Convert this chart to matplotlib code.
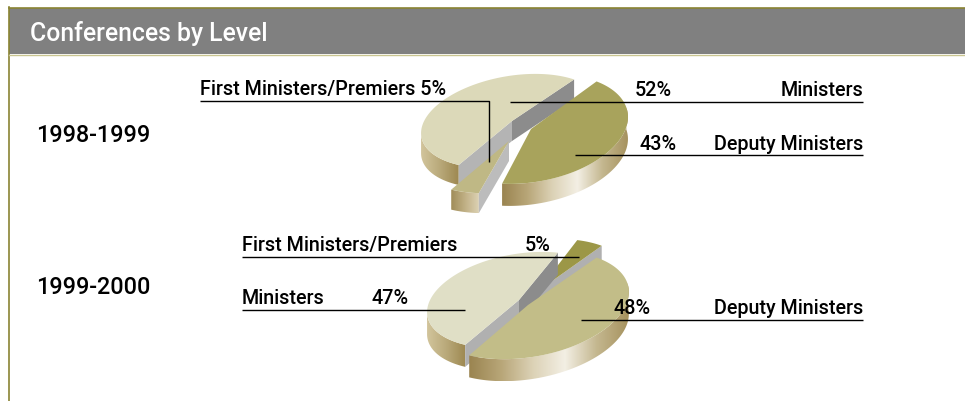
import numpy as np
import matplotlib
matplotlib.use('Agg')
import matplotlib.pyplot as plt
from matplotlib.colors import LinearSegmentedColormap
from matplotlib.patches import Polygon

plt.rcParams['font.family'] = ['Roboto', 'DejaVu Sans']

# Data
title = 'Conferences by Level'
years = ['1998-1999', '1999-2000']
levels_98 = ['Ministers', 'First Ministers/Premiers', 'Deputy Ministers']
values_98 = [52, 5, 43]
levels_99 = ['First Ministers/Premiers', 'Ministers', 'Deputy Ministers']
values_99 = [5, 47, 48]

# Pie projection
START = 42
TILT = np.radians(10)

MIN_RIM = ['#d2c59c', '#b9a97a', '#9d8850']
DEP_RIM = ['#9a8450', '#b8a678', '#dcd2b6', '#f3efe4', '#c4b78f', '#a6925e']
FM_RIM = ['#a08c58', '#c0b085', '#dcd2b4']


def ellipse(cx, cy, rx, ry, deg):
    t = np.radians(deg)
    u = rx * np.cos(t)
    v = ry * np.sin(t)
    return (cx + u * np.cos(TILT) - v * np.sin(TILT),
            cy - u * np.sin(TILT) - v * np.cos(TILT))


def draw_wedge(ax, a0, a1, center, rx, ry, depth, top, rim, start_face, end_face):
    cx, cy = center
    xs, ys = ellipse(cx, cy, rx, ry, np.linspace(a0, a1, 120))

    # outer wall, front part only
    lo, hi = max(a0, 175), min(a1, 365)
    if hi > lo:
        rx_s, ry_s = ellipse(cx, cy, rx, ry, np.linspace(lo, hi, 120))
        pts = np.r_[np.c_[rx_s, ry_s], np.c_[rx_s, ry_s + depth][::-1]]
        clip = Polygon(pts, transform=ax.transData, fc='none', ec='none')
        ax.add_patch(clip)
        cmap = LinearSegmentedColormap.from_list('rim', rim)
        im = ax.imshow(np.linspace(0, 1, 256).reshape(1, -1), cmap=cmap, aspect='auto',
                       extent=(rx_s.min(), rx_s.max(), ry_s.max() + depth, ry_s.min()),
                       zorder=ax.zcount)
        im.set_clip_path(clip)

    # cut faces
    for ang, col in ((a0, start_face), (a1, end_face)):
        if col is None:
            continue
        ex, ey = ellipse(cx, cy, rx, ry, ang)
        ax.add_patch(Polygon([(cx, cy), (ex, ey), (ex, ey + depth), (cx, cy + depth)],
                             fc=col, ec='none', zorder=ax.zcount))

    ax.add_patch(Polygon(np.r_[[(cx, cy)], np.c_[xs, ys]], fc=top, ec='none', zorder=ax.zcount))
    ax.zcount += 1


fig = plt.figure(figsize=(9.65, 4.02), dpi=100)
ax = fig.add_axes([0, 0, 1, 1])
ax.zcount = 2
ax.axis('off')

# Frame and header
ax.fill_between([9, 965], 9, 55, color='#808080', lw=0, zorder=1)
ax.plot([8.5, 965], [8.5, 8.5], color='#8a8433', lw=1.2, zorder=1)
ax.plot([8.5, 8.5], [8, 402], color='#8a8433', lw=1.2, zorder=1)
ax.plot([9, 965], [55.5, 55.5], color='#c9c590', lw=1, zorder=1)
ax.text(30, 40.5, title, color='white', fontsize=17.8, va='baseline', ha='left', weight='medium')

# 1998-1999 pie
a = np.r_[0, np.cumsum(values_98)] * 3.6 + START
draw_wedge(ax, a[0], a[1], (512, 122), 92, 45, 20, '#dcd9b9', MIN_RIM, '#8c8c8c', '#b4b4b4')
draw_wedge(ax, a[1], a[2], (509, 142), 100, 50, 20, '#bfb885', FM_RIM, None, '#bcbcbc')
draw_wedge(ax, a[2], a[3], (531, 130), 98, 53, 22, '#a8a35c', DEP_RIM, None, None)

# 1999-2000 pie
b = np.r_[0, np.cumsum(values_99)] * 3.6 + START
draw_wedge(ax, b[0], b[1], (538, 292), 95, 50, 22, '#9c9747', FM_RIM, '#b0b0b0', None)
draw_wedge(ax, b[1], b[2], (519, 301), 93, 46, 22, '#e0dfc6', MIN_RIM, '#8c8c8c', '#b0b0b0')
draw_wedge(ax, b[2], b[3], (528, 306), 102, 52, 22, '#c2bd88', DEP_RIM, None, None)

# Leader lines
line = dict(color='black', lw=1, zorder=50, solid_capstyle='butt')
ax.plot([200, 489, 489], [101.5, 101.5, 163], **line)
ax.plot([510, 863], [102.5, 102.5], **line)
ax.plot([575, 863], [155.5, 155.5], **line)
ax.plot([242, 579], [257.5, 257.5], **line)
ax.plot([242, 465], [310.5, 310.5], **line)
ax.plot([581, 863], [320.5, 320.5], **line)

# Labels
txt = dict(fontsize=14.2, color='black', va='baseline', weight='medium', zorder=60)
ax.text(200, 95, f'{levels_98[1]} {values_98[1]}%', ha='left', **txt)
ax.text(672, 96, f'{values_98[0]}%', ha='right', **txt)
ax.text(863, 96, levels_98[0], ha='right', **txt)
ax.text(677, 150, f'{values_98[2]}%', ha='right', **txt)
ax.text(863, 150, levels_98[2], ha='right', **txt)
ax.text(242, 251, levels_99[0], ha='left', **txt)
ax.text(551, 251, f'{values_99[0]}%', ha='right', **txt)
ax.text(242, 304, levels_99[1], ha='left', **txt)
ax.text(409, 304, f'{values_99[1]}%', ha='right', **txt)
ax.text(651, 314, f'{values_99[2]}%', ha='right', **txt)
ax.text(863, 314, levels_99[2], ha='right', **txt)
ax.text(36, 142, years[0], fontsize=16.8, va='baseline', ha='left', weight='medium')
ax.text(36, 294, years[1], fontsize=16.8, va='baseline', ha='left', weight='medium')

ax.set_xlim(0, 965)
ax.set_ylim(402, 0)
fig.savefig('out.png', dpi=100, facecolor='white')
